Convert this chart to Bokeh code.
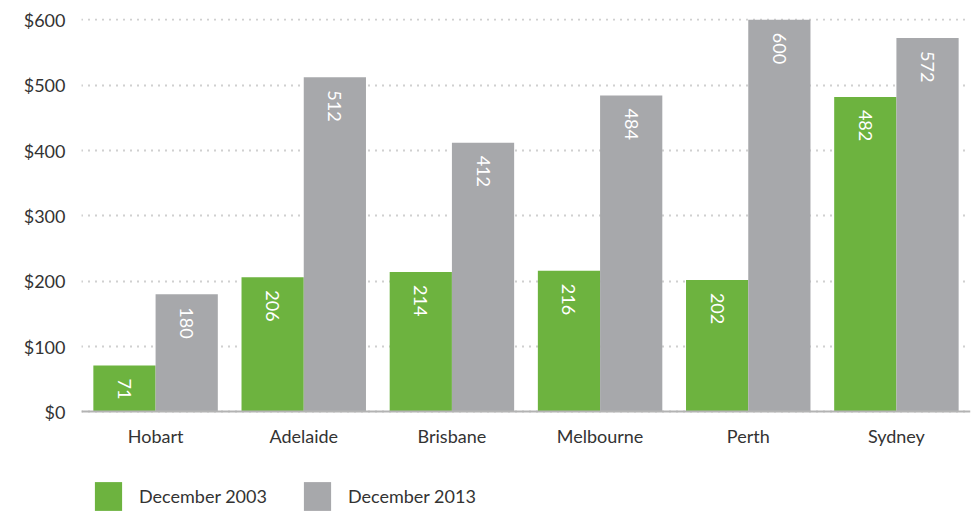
import math
from bokeh.plotting import figure
from bokeh.models import ColumnDataSource, FactorRange, Range1d, Legend, LegendItem, NumeralTickFormatter, FixedTicker
from bokeh.transform import dodge
from bokeh.embed import file_html
from bokeh.resources import INLINE
from bokeh.core.properties import value

cities = ["Hobart", "Adelaide", "Brisbane", "Melbourne", "Perth", "Sydney"]
dec2003 = [71, 206, 214, 216, 202, 482]
dec2013 = [180, 512, 412, 484, 600, 572]
y_ticks = [0, 100, 200, 300, 400, 500, 600]
series_names = ["December 2003", "December 2013"]

GREEN = "#6db33f"
GRAY = "#a7a8ab"
TEXT = "#333333"
FONT = "Lato"

src = ColumnDataSource(dict(
    city=cities, a=dec2003, b=dec2013,
    la=[str(v) for v in dec2003], lb=[str(v) for v in dec2013],
))

# frame extends to the figure bottom; the x axis is pinned at y=0 so the
# legend can sit below it inside the frame
p = figure(width=972, height=516, output_backend="svg", toolbar_location=None,
           x_range=FactorRange(*cities, range_padding=0), y_range=Range1d(-157, 602))
p.min_border_left = 81
p.min_border_right = 2
p.min_border_top = 18
p.min_border_bottom = 2
p.outline_line_color = None
p.background_fill_color = "white"
p.border_fill_color = "white"

w = 0.42
ra = p.vbar(x=dodge("city", -0.21, range=p.x_range), top="a", width=w, source=src,
            fill_color=GREEN, line_color=None)
rb = p.vbar(x=dodge("city", 0.21, range=p.x_range), top="b", width=w, source=src,
            fill_color=GRAY, line_color=None)

for col, lab, off in [("a", "la", -0.21), ("b", "lb", 0.21)]:
    p.text(x=dodge("city", off, range=p.x_range), y=col, text=lab, source=src,
           angle=-math.pi / 2, text_align="left", text_baseline="middle",
           y_offset=13, text_color="white", text_font_size="18px",
           text_font=value(FONT))

# axes
p.yaxis.ticker = FixedTicker(ticks=y_ticks)
p.yaxis.formatter = NumeralTickFormatter(format="$0")
p.yaxis.axis_line_color = None
p.yaxis.major_tick_line_color = None
p.yaxis.minor_tick_line_color = None
p.yaxis.major_label_text_font = FONT
p.yaxis.major_label_text_font_size = "18px"
p.yaxis.major_label_text_color = TEXT
p.yaxis.major_label_standoff = 10

p.xaxis.fixed_location = 0
p.xaxis.axis_line_color = "#b3b3b3"
p.xaxis.axis_line_width = 2
p.xaxis.major_tick_line_color = None
p.xaxis.minor_tick_line_color = None
p.xaxis.major_label_text_font = FONT
p.xaxis.major_label_text_font_size = "18px"
p.xaxis.major_label_text_color = TEXT
p.xaxis.major_label_standoff = 7

p.xgrid.grid_line_color = None
p.ygrid.grid_line_color = "#a0a0a0"
p.ygrid.grid_line_dash = "1 6"
p.ygrid.grid_line_width = 2

legend = Legend(items=[LegendItem(label=series_names[0], renderers=[ra]),
                       LegendItem(label=series_names[1], renderers=[rb])],
                location=(10, 0), orientation="horizontal",
                glyph_width=34, glyph_height=36, label_standoff=14, spacing=33,
                padding=0, margin=0, border_line_color=None,
                background_fill_alpha=0,
                label_text_font=FONT, label_text_font_size="18px",
                label_text_color=TEXT)
p.add_layout(legend, "center")

open("out.html", "w").write(file_html(p, INLINE))
